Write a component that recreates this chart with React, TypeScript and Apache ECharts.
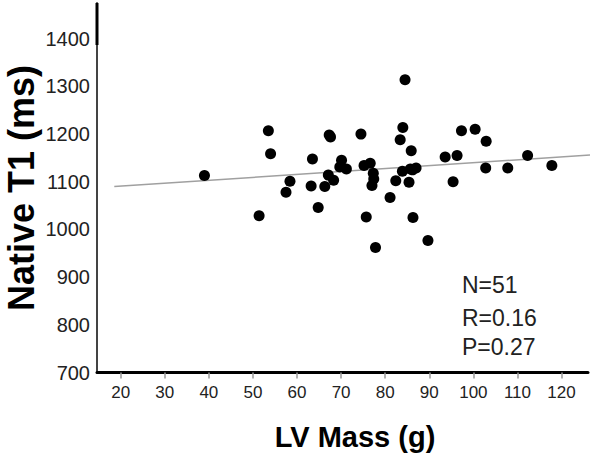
import React, { useEffect, useRef } from "react";
import * as echarts from "echarts";

// LV Mass (g) values of the scatter points
const lvMass = [
  39.0, 53.5, 54.0, 58.4, 57.5, 51.4, 63.5, 67.3, 67.6, 63.2,
  66.3, 64.8, 67.1, 68.3, 70.1, 69.7, 71.2, 74.5, 75.2, 76.6,
  77.3, 77.4, 77.0, 75.7, 77.8, 84.0, 83.4, 85.9, 83.9, 85.7,
  86.2, 82.4, 85.4, 81.1, 86.3, 89.7, 84.5, 93.6, 96.3, 97.3,
  100.4, 102.9, 102.8, 107.8, 112.3, 117.8, 95.4, 87.0,
];
// Native T1 (ms) values of the scatter points
const nativeT1 = [
  1113, 1207, 1159, 1101, 1078, 1029, 1148, 1198, 1194, 1091,
  1090, 1046, 1114, 1103, 1145, 1131, 1127, 1200, 1134, 1139,
  1118, 1106, 1092, 1026, 962, 1214, 1188, 1165, 1122, 1127,
  1125, 1102, 1099, 1067, 1025, 977, 1314, 1152, 1155, 1207,
  1210, 1185, 1129, 1129, 1155, 1134, 1100, 1129,
];
// Regression line end points
const trendX = [18.55, 127.3];
const trendY = [1090, 1156.6];

const xTicks = [20, 30, 40, 50, 60, 70, 80, 90, 100, 110, 120];
const yTicks = [700, 800, 900, 1000, 1100, 1200, 1300, 1400];
const statsLines = ["N=51", "R=0.16", "P=0.27"];

const FONT = "'Liberation Sans', Arial, sans-serif";

export default function App() {
  const ref = useRef<HTMLDivElement>(null);

  useEffect(() => {
    if (!ref.current) return;
    const chart = echarts.init(ref.current, null, { renderer: "svg" });
    const points = lvMass.map((x, i) => [x, nativeT1[i]]);
    const trend = trendX.map((x, i) => [x, trendY[i]]);
    chart.setOption({
      animation: false,
      backgroundColor: "#ffffff",
      grid: { left: 97, top: 3, width: 491, height: 369.5, containLabel: false },
      xAxis: {
        type: "value",
        min: 14.63,
        max: 126,
        splitLine: { show: false },
        axisLine: { show: true, onZero: false, lineStyle: { color: "#000", width: 3 } },
        axisTick: {
          show: true,
          customValues: xTicks,
          length: 6,
          lineStyle: { color: "#999", width: 1.5 },
        },
        axisLabel: {
          customValues: xTicks,
          formatter: (v: number) => String(v),
          fontSize: 17,
          color: "#222",
          fontFamily: FONT,
          margin: 11,
        },
      },
      yAxis: {
        type: "value",
        min: 700,
        max: 1475,
        splitLine: { show: false },
        axisLine: { show: true, onZero: false, lineStyle: { color: "#444", width: 2 } },
        axisTick: { show: false, customValues: yTicks },
        axisLabel: {
          customValues: yTicks,
          formatter: (v: number) => String(v),
          fontSize: 20,
          color: "#222",
          fontFamily: FONT,
          margin: 7,
        },
      },
      series: [
        {
          type: "line",
          data: trend,
          symbol: "none",
          clip: false,
          lineStyle: { color: "#a0a0a0", width: 1.5 },
          silent: true,
          z: 1,
        },
        {
          type: "scatter",
          data: points,
          symbol: "circle",
          symbolSize: 11,
          itemStyle: { color: "#000", opacity: 1 },
          z: 2,
        },
      ],
      graphic: [
        {
          type: "line",
          shape: { x1: 97, y1: 3, x2: 97, y2: 45 },
          style: { stroke: "#000", lineWidth: 3 },
          z: 10,
        },
        {
          type: "text",
          x: 21,
          y: 188,
          rotation: Math.PI / 2,
          style: {
            text: "Native T1 (ms)",
            fontSize: 36,
            fontWeight: "bold",
            fontFamily: FONT,
            fill: "#000",
            align: "center",
            verticalAlign: "middle",
          },
        },
        {
          type: "text",
          x: 355,
          y: 437,
          style: {
            text: "LV Mass (g)",
            fontSize: 29,
            fontWeight: "bold",
            fontFamily: FONT,
            fill: "#000",
            align: "center",
            verticalAlign: "middle",
          },
        },
        ...statsLines.map((t, i) => ({
          type: "text",
          x: 462,
          y: [285, 318, 347][i],
          style: {
            text: t,
            fontSize: 23,
            fontFamily: FONT,
            fill: "#222",
            align: "left",
            verticalAlign: "middle",
          },
        })),
      ],
    });
    return () => chart.dispose();
  }, []);

  return (
    <div
      ref={ref}
      style={{ position: "fixed", left: 0, top: 0, width: 597, height: 456, background: "#fff" }}
    />
  );
}
